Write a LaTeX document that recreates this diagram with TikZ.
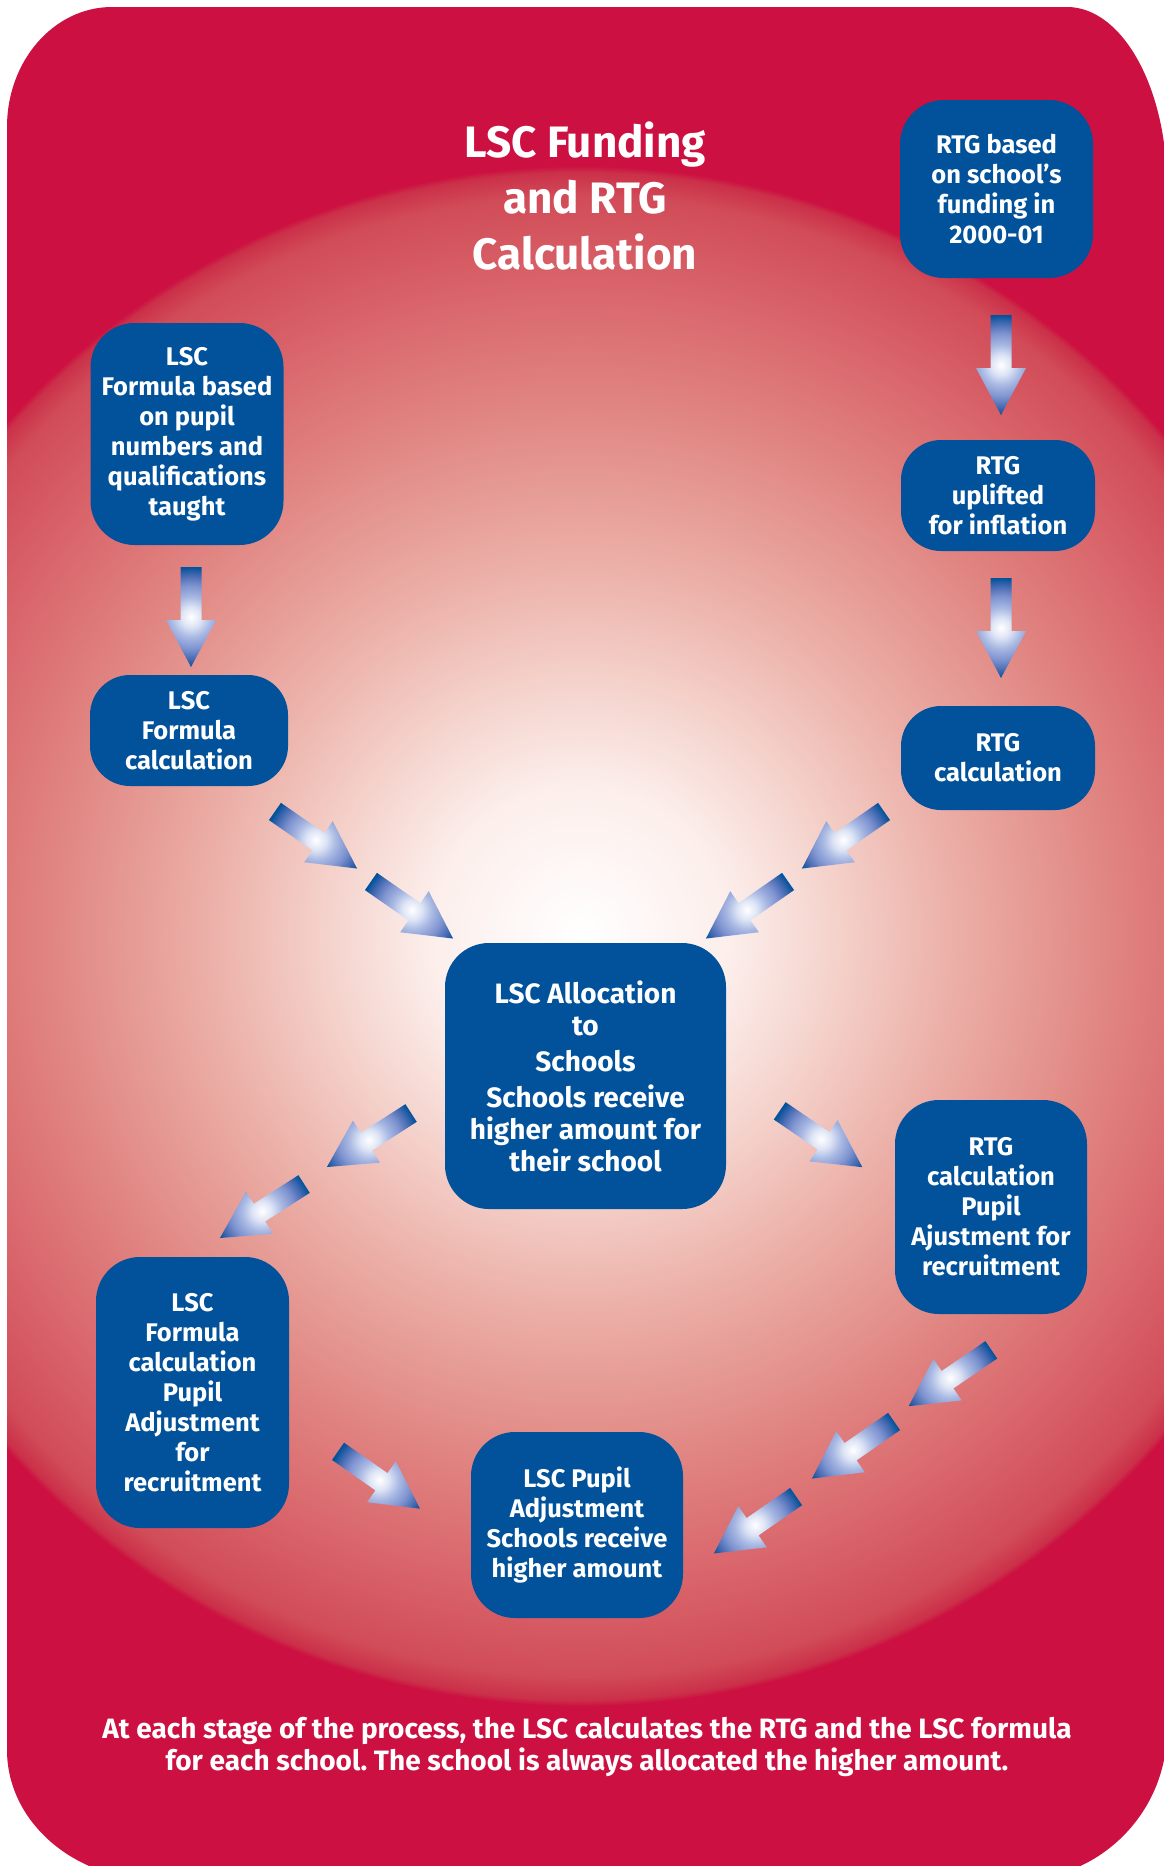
\documentclass[tikz,border=0pt]{standalone}
\usepackage{fontspec}
\setmainfont{Fira Sans}
\frenchspacing
\definecolor{bgred}{RGB}{204,16,65}
\definecolor{boxblue}{RGB}{2,82,155}
\definecolor{g0}{HTML}{FFFFFF}
\definecolor{g1}{HTML}{FCEEEB}
\definecolor{g2}{HTML}{F4D1CA}
\definecolor{g3}{HTML}{EBAEA6}
\definecolor{g4}{HTML}{E18884}
\definecolor{g5}{HTML}{D9656B}
\definecolor{g6}{HTML}{D14C58}
\definecolor{g7}{HTML}{CB3049}
\definecolor{a1}{HTML}{DDE4F5}
\definecolor{a2}{HTML}{A9B9E3}
\definecolor{a3}{HTML}{7D92CF}
\definecolor{a4}{HTML}{456AB2}
\pgfdeclareradialshading{glow}{\pgfpointorigin}{color(0bp)=(g0); color(4.9bp)=(g1); color(8.4bp)=(g2); color(12.3bp)=(g3); color(16.9bp)=(g4); color(21.1bp)=(g5); color(24bp)=(g6); color(24.8bp)=(g7); color(25bp)=(bgred); color(50bp)=(bgred)}
\pgfdeclareradialshading{aglow}{\pgfpointorigin}{color(0bp)=(white); color(5bp)=(a1); color(10bp)=(a2); color(16bp)=(a3); color(21bp)=(a4); color(25bp)=(boxblue); color(50bp)=(boxblue)}
\tikzset{
  box/.style={fill=boxblue, rounded corners=44pt, text=white, align=center, inner sep=0pt,
    font=\bfseries\fontsize{25.5}{30}\selectfont},
  smallbox/.style={box, rounded corners=40pt},
  bigtext/.style={font=\bfseries\fontsize{28}{32}\selectfont},
  titletext/.style={text=white, align=center, inner sep=0pt, font=\bfseries\fontsize{44}{56}\selectfont},
  notetext/.style={text=white, align=center, inner sep=0pt, font=\bfseries\fontsize{28}{32}\selectfont},
  barrow/.pic={
    \shade[shading=aglow] (50,0) (43.3,25) (25,43.3) (0,50) (-25,43.3) (-43.3,25) (-50,0)
      (-43.3,-25) (-25,-43.3) (0,-50) (25,-43.3) (43.3,-25)
      (-50,-10.5) -- (3,-10.5) -- (3,-25) -- (50,0) -- (3,25) -- (3,10.5) -- (-50,10.5) -- cycle;
  }
}
\begin{document}
\begin{tikzpicture}[x=1pt,y=-1pt]
\useasboundingbox (0,0) rectangle (1163,1866);
\fill[white] (0,0) rectangle (1163,1866);
\begin{scope}
  \clip (7,127) .. controls (7,60.7) and (54,7) .. (112,7) -- (1067,7)
    .. controls (1122.2,7) and (1167,87.6) .. (1167,187) -- (1167,1730)
    .. controls (1167,1812.8) and (1099.8,1880) .. (1017,1880) -- (157,1880)
    .. controls (74.2,1880) and (7,1821.8) .. (7,1750) -- cycle;
  \fill[bgred] (0,0) rectangle (1200,1900);
  \shade[shading=glow] (580,936) circle[radius=770];
\end{scope}

% title
\node[titletext] (title) at (585,196) {LSC Funding\\and RTG\\Calculation};

% boxes
\node[box, minimum width=193, minimum height=178] (rtgbase) at (996.5,189)
  {RTG based\\on school’s\\funding in\\2000-01};
\node[smallbox, minimum width=194, minimum height=111] (uplift) at (998,495.5)
  {RTG\\uplifted\\for inflation};
\node[smallbox, minimum width=194, minimum height=104] (rtgcalc) at (998,758)
  {RTG\\calculation};
\node[box, minimum width=193, minimum height=222] (lscbase) at (187,434)
  {LSC\\Formula based\\on pupil\\numbers and\\qualifications\\taught};
\node[smallbox, minimum width=198, minimum height=111] (lsccalc) at (189,730.5)
  {LSC\\Formula\\calculation};
\node[box, bigtext, minimum width=281, minimum height=266] (alloc) at (585.5,1076)
  {LSC Allocation\\to\\[4pt]Schools\\[4pt]Schools receive\\higher amount for\\their school};
\node[box, minimum width=192, minimum height=214] (rtgpupil) at (991,1207)
  {RTG\\calculation\\Pupil\\Ajustment for\\recruitment};
\node[box, minimum width=193, minimum height=271] (lscpupil) at (192.5,1392.5)
  {LSC\\Formula\\calculation\\Pupil\\Adjustment\\for\\recruitment};
\node[box, minimum width=212, minimum height=186] (final) at (577,1525)
  {LSC Pupil\\Adjustment\\Schools receive\\higher amount};

% block arrows
\pic[rotate=-90] (av1) at (1001,365) {barrow};
\pic[rotate=-90] (av2) at (1001,628) {barrow};
\pic[rotate=-90] (av3) at (191,617) {barrow};
\pic[rotate=-34.8] (ad1) at (316,840) {barrow};
\pic[rotate=-34.8] (ad2) at (412,910) {barrow};
\pic[rotate=-145.2] (ad3) at (843,840) {barrow};
\pic[rotate=-145.2] (ad4) at (747,910) {barrow};
\pic[rotate=-147.3] (ad5) at (369,1140) {barrow};
\pic[rotate=-147.3] (ad6) at (262,1211) {barrow};
\pic[rotate=-34.3] (ad7) at (821,1139) {barrow};
\pic[rotate=-35] (ad8) at (379,1480) {barrow};
\pic[rotate=-145.7] (ad9) at (950,1378) {barrow};
\pic[rotate=-145.2] (ad10) at (853,1450) {barrow};
\pic[rotate=-145.3] (ad11) at (755,1525) {barrow};

% footnote
\node[notetext] (note) at (587,1747)
  {At each stage of the process, the LSC calculates the RTG and the LSC formula\\for each school. The school is always allocated the higher amount.};
\end{tikzpicture}
\end{document}
